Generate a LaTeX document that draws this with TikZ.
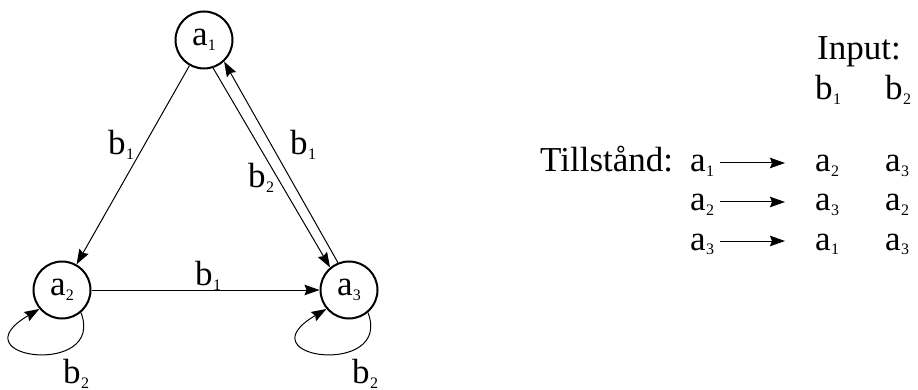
\documentclass[tikz,border=0pt]{standalone}
\usepackage{fontspec}
\setmainfont{Liberation Serif}
\usetikzlibrary{arrows.meta}
\newcommand\subs[2]{#1\kern0.3pt\raisebox{-5pt}{\fontsize{16}{16}\selectfont #2}}
\begin{document}
\begin{tikzpicture}[x=1pt,y=-1pt,
  every node/.style={font=\fontsize{35}{40}\selectfont, inner sep=0pt},
  state/.style={circle, draw, line width=2pt, minimum size=57pt},
  arr/.style={line width=1pt, -{Stealth[length=15pt,width=10.5pt,inset=2pt]}},
  txt/.style={anchor=base west}]
\useasboundingbox (0,0) rectangle (918,390);
% graph
\node[state] (a1) at (204,40) {\subs{a}{1}};
\node[state] (a2) at (62,290) {\subs{a}{2}};
\node[state] (a3) at (349,290) {\subs{a}{3}};
\draw[arr] (a1) -- (a2);
\draw[arr] (a2) -- (a3);
\draw[arr] (a1.-72) -- (a3.130);
\draw[arr] (a3.112) -- (a1.-47);
\draw[arr] (a2.-50) .. controls +(25,65) and +(-85,50) .. (a2.-140);
\draw[arr] (a3.-50) .. controls +(25,65) and +(-85,50) .. (a3.-140);
\node[txt] (l1) at (108,155) {\subs{b}{1}};
\node[txt] (l2) at (248,188) {\subs{b}{2}};
\node[txt] (l3) at (290,155) {\subs{b}{1}};
\node[txt] (l4) at (195,285) {\subs{b}{1}};
\node[txt] (l5) at (63,383) {\subs{b}{2}};
\node[txt] (l6) at (352,383) {\subs{b}{2}};
% table
\node[txt] (inp) at (817,60) {Input:};
\node[txt] (h1) at (815,100) {\subs{b}{1}};
\node[txt] (h2) at (885,100) {\subs{b}{2}};
\node[txt] (tl) at (540,172) {Tillstånd:};
\node[txt] (r1) at (690,172) {\subs{a}{1}};
\node[txt] (r2) at (690,211) {\subs{a}{2}};
\node[txt] (r3) at (690,250) {\subs{a}{3}};
\node[txt] (c11) at (815,172) {\subs{a}{2}};
\node[txt] (c12) at (885,172) {\subs{a}{3}};
\node[txt] (c21) at (815,211) {\subs{a}{3}};
\node[txt] (c22) at (885,211) {\subs{a}{2}};
\node[txt] (c31) at (815,250) {\subs{a}{1}};
\node[txt] (c32) at (885,250) {\subs{a}{3}};
\foreach \i in {1,2,3}{
  \draw[arr] ([xshift=-95pt,yshift=9pt]c\i1.base west) coordinate (s\i) -- ([xshift=-30pt,yshift=9pt]c\i1.base west);
}
\end{tikzpicture}
\end{document}
